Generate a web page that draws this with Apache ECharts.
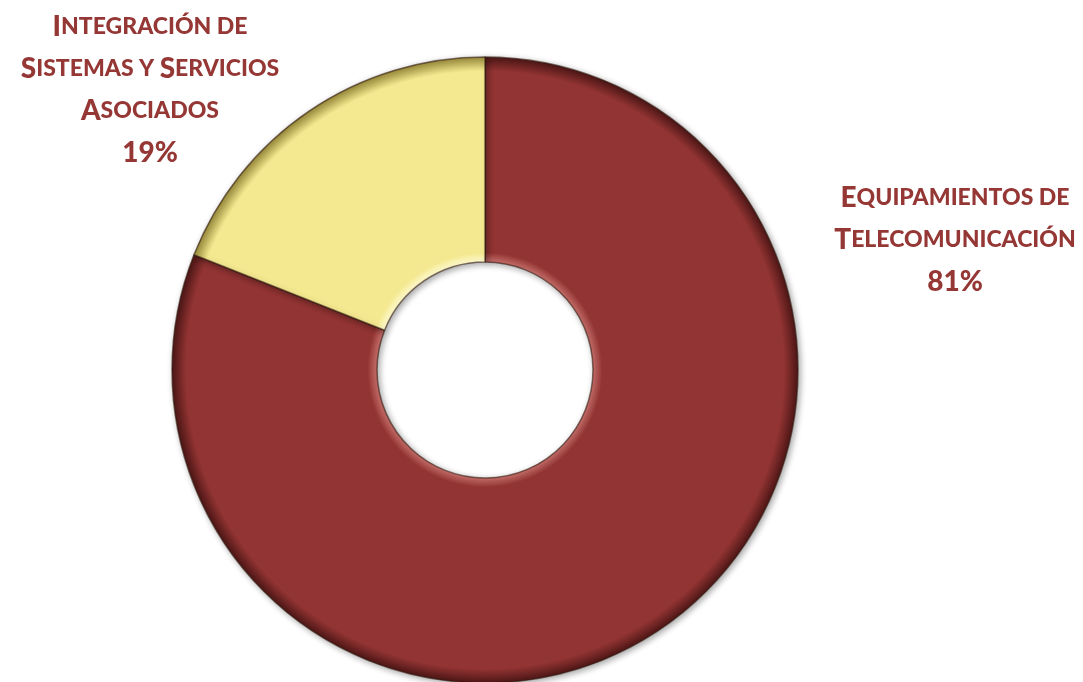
<!DOCTYPE html>
<html>
<head>
<meta charset="utf-8">
<script src="https://cdn.jsdelivr.net/npm/echarts@6/dist/echarts.min.js"></script>
<style>
  html, body { margin: 0; padding: 0; background: #fff; }
  #chart { width: 1083px; height: 682px; }
</style>
</head>
<body>
<div id="chart"></div>
<script>
const categories = ['Equipamientos de Telecomunicación', 'Integración de Sistemas y Servicios Asociados']
const values = [81, 19]
const labelLines = [
  ['Equipamientos de', 'Telecomunicación'],
  ['Integración de', 'Sistemas y Servicios', 'Asociados']
]
const colors = ['#923433', '#F4E890']
const edgeLight = ['#c9706c', '#fffbd0']
const edgeDark = ['#4e1716', '#9c8e3c']
const labelPos = [[955, 240], [150, 90]]

// small caps: original capitals and digits big, lowercase shown as smaller capitals
function smallCaps(text) {
  let out = ''
  let cur = null
  let buf = ''
  for (const ch of text) {
    let style = cur
    if (ch === ' ') style = cur || 'b'
    else if (ch !== ch.toLowerCase() || /[0-9%]/.test(ch)) style = 'b'
    else style = 's'
    if (style !== cur && buf) {
      out += '{' + cur + '|' + buf + '}'
      buf = ''
    }
    cur = style
    buf += ch.toUpperCase()
  }
  if (buf) out += '{' + cur + '|' + buf + '}'
  return out
}

const cx = 485, cy = 370, r0 = 108, r1 = 313

function bevel(i) {
  const a = r0 / r1
  return new echarts.graphic.RadialGradient(cx, cy, r1, [
    { offset: a, color: edgeLight[i] },
    { offset: a + 0.03, color: colors[i] },
    { offset: 0.955, color: colors[i] },
    { offset: 1, color: edgeDark[i] }
  ], true)
}

const chart = echarts.init(document.getElementById('chart'))
chart.setOption({
  backgroundColor: '#fff',
  series: [
    {
      type: 'pie',
      center: [cx, cy],
      radius: [r0, r1],
      startAngle: 90,
      clockwise: true,
      silent: true,
      data: categories.map((name, i) => ({
        name: name,
        value: values[i],
        itemStyle: { color: bevel(i) }
      })),
      itemStyle: {
        borderColor: 'rgba(50,25,15,0.6)',
        borderWidth: 1.5,
        shadowColor: 'rgba(0,0,0,0.35)',
        shadowBlur: 6,
        shadowOffsetX: 2,
        shadowOffsetY: 2
      },
      label: {
        show: true,
        position: 'outside',
        color: '#953735',
        fontFamily: 'Lato',
        fontWeight: 'bold',
        align: 'center',
        overflow: 'none',
        width: 320,
        formatter: p => labelLines[p.dataIndex].map(smallCaps).join('\n') + '\n' + smallCaps(p.value + '%'),
        rich: {
          b: { fontSize: 28, fontWeight: 900, fontFamily: 'Lato', color: '#953735', lineHeight: 42 },
          s: { fontSize: 23, fontWeight: 900, fontFamily: 'Lato', color: '#953735', lineHeight: 42 }
        }
      },
      labelLine: { show: false },
      labelLayout: p => ({
        x: labelPos[p.dataIndex][0],
        y: labelPos[p.dataIndex][1],
        align: 'center',
        verticalAlign: 'middle'
      })
    }
  ]
})
</script>
</body>
</html>
